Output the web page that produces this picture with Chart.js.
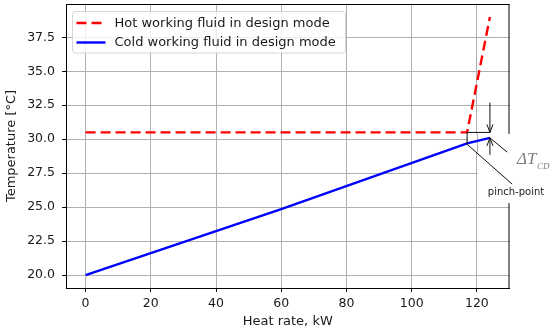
<!DOCTYPE html>
<html><head><meta charset="utf-8">
<script src="https://cdn.jsdelivr.net/npm/chart.js@4/dist/chart.umd.min.js"></script>
<style>html,body{margin:0;padding:0;background:#fff}#wrap{width:550px;height:332px}</style>
</head><body><div id="wrap"><canvas id="c" width="550" height="332"></canvas></div>
<script>
const hotHeat = [0, 117, 124];
const hotTemp = [30.5, 30.5, 39.0];
const coldHeat = [0, 60, 117, 124];
const coldTemp = [20.0, 24.85, 29.7, 30.1];
const xTicks = [0, 20, 40, 60, 80, 100, 120];
const yTicks = [20.0, 22.5, 25.0, 27.5, 30.0, 32.5, 35.0, 37.5];
const seriesNames = ['Hot working fluid in design mode', 'Cold working fluid in design mode'];
const xTitle = 'Heat rate, kW';
const yTitle = 'Temperature [°C]';
const pinchLabel = 'pinch-point';

const FONT = "'DejaVu Sans', sans-serif";
const TXT = '#1a1a1a';

const pts = (xs, ys) => xs.map((x, i) => ({x, y: ys[i]}));

const framePlugin = {
  id: 'frame',
  beforeDatasetsDraw(chart) {
    const {ctx, chartArea: a, scales: {x, y}} = chart;
    ctx.save();
    ctx.strokeStyle = '#000'; ctx.lineWidth = 1;
    ctx.beginPath();
    ctx.moveTo(a.left, a.top + 0.5); ctx.lineTo(a.right, a.top + 0.5);
    ctx.moveTo(a.right - 0.5, a.top); ctx.lineTo(a.right - 0.5, a.bottom);
    ctx.stroke();
    // white patch behind the annotation labels
    const px1 = x.getPixelForValue(hotHeat[1]);
    const g = Math.round(x.getPixelForValue(120)) + 0.5;
    const yh = y.getPixelForValue(hotTemp[1]);
    const ym = y.getPixelForValue(29.0);
    const yb = y.getPixelForValue(25.3);
    ctx.fillStyle = '#fff';
    ctx.fillRect(px1 + 1, yh + 1.5, a.right + 4 - px1, ym - yh - 1.5);
    ctx.fillRect(g + 0.5, ym - 1, a.right + 4 - g, yb - ym + 1);
    ctx.strokeStyle = '#b0b0b0';
    ctx.beginPath(); ctx.moveTo(g, yh + 1.5); ctx.lineTo(g, ym); ctx.stroke();
    ctx.restore();
  },
  afterDatasetsDraw(chart) {
    const {ctx, chartArea: a, scales: {x, y}} = chart;
    const px1 = x.getPixelForValue(hotHeat[1]);
    const px2 = x.getPixelForValue(coldHeat[coldHeat.length - 1]);
    const yh = y.getPixelForValue(hotTemp[1]);
    const yc = y.getPixelForValue(coldTemp[coldTemp.length - 1]);
    const ycp = y.getPixelForValue(coldTemp[2]);
    ctx.save();
    ctx.strokeStyle = '#111'; ctx.lineWidth = 1;
    ctx.beginPath();
    ctx.moveTo(px1, yh); ctx.lineTo(px2, yh);
    ctx.moveTo(px1, yh); ctx.lineTo(px1, ycp + 1);
    ctx.moveTo(px2, y.getPixelForValue(32.7)); ctx.lineTo(px2, yh);
    ctx.moveTo(px2 - 3, yh - 8); ctx.lineTo(px2, yh); ctx.lineTo(px2 + 3, yh - 8);
    ctx.moveTo(px2, y.getPixelForValue(28.85)); ctx.lineTo(px2, yc);
    ctx.moveTo(px2 - 3, yc + 8); ctx.lineTo(px2, yc); ctx.lineTo(px2 + 3, yc + 8);
    ctx.moveTo(px2, yc); ctx.lineTo(x.getPixelForValue(129.3), y.getPixelForValue(29.05));
    ctx.moveTo(px1, ycp + 1); ctx.lineTo(x.getPixelForValue(130.8), y.getPixelForValue(26.7));
    ctx.stroke();
    ctx.fillStyle = '#808080';
    ctx.textBaseline = 'alphabetic'; ctx.textAlign = 'left';
    ctx.font = "italic 17px 'Liberation Serif', serif";
    ctx.fillText('ΔT', 517, 164);
    ctx.font = "italic 9px 'Liberation Serif', serif";
    ctx.fillText('CD', 537, 169);
    ctx.fillStyle = TXT;
    ctx.font = "10px " + FONT;
    ctx.textAlign = 'center';
    ctx.fillText(pinchLabel, 516, 195);
    // legend
    const lx = a.left + 6.5, ly = a.top + 7.5, lw = 273, lh = 41.5;
    ctx.fillStyle = 'rgba(255,255,255,0.8)';
    ctx.strokeStyle = '#d6d6d6';
    ctx.beginPath();
    ctx.roundRect(lx, ly, lw, lh, 3);
    ctx.fill(); ctx.stroke();
    chart.data.datasets.forEach((ds, i) => {
      const yy = ly + 11.5 + i * 19.5;
      ctx.strokeStyle = ds.borderColor; ctx.lineWidth = ds.borderWidth;
      ctx.setLineDash(ds.borderDash || []);
      ctx.beginPath(); ctx.moveTo(lx + 4, yy); ctx.lineTo(lx + 33, yy); ctx.stroke();
      ctx.setLineDash([]);
      ctx.fillStyle = TXT; ctx.font = "13px " + FONT;
      ctx.textAlign = 'left'; ctx.textBaseline = 'middle';
      ctx.fillText(ds.label, lx + 42, yy + 0.5);
    });
    ctx.restore();
  }
};

new Chart(document.getElementById('c'), {
  type: 'line',
  data: {
    datasets: [
      {label: seriesNames[0], data: pts(hotHeat, hotTemp), borderColor: '#ff0000', borderWidth: 2.4, borderDash: [10, 5], pointRadius: 0, fill: false, tension: 0},
      {label: seriesNames[1], data: pts(coldHeat, coldTemp), borderColor: '#0000ff', borderWidth: 2.4, pointRadius: 0, fill: false, tension: 0}
    ]
  },
  options: {
    responsive: false, animation: false, devicePixelRatio: 1,
    layout: {padding: {top: 4, right: 40.5, left: 0, bottom: 0}},
    plugins: {legend: {display: false}, tooltip: {enabled: false}},
    scales: {
      x: {
        type: 'linear', min: -6, max: 130,
        afterFit: s => { s.height = 44; s.paddingLeft = 0; s.paddingRight = 0; },
        afterBuildTicks: s => { s.ticks = xTicks.map(v => ({value: v})); },
        grid: {color: '#b0b0b0', tickColor: '#000', tickLength: 4, lineWidth: 1},
        border: {color: '#000', width: 1},
        ticks: {font: {family: FONT, size: 12.5}, color: TXT, padding: 4, maxRotation: 0, callback: v => String(v)},
        title: {display: true, text: xTitle, font: {family: FONT, size: 13}, color: TXT, padding: {top: 0, bottom: 3}}
      },
      y: {
        type: 'linear', min: 19.05, max: 39.95,
        afterFit: s => { s.width = 66; s.paddingTop = 0; s.paddingBottom = 0; },
        afterBuildTicks: s => { s.ticks = yTicks.map(v => ({value: v})); },
        grid: {color: '#b0b0b0', tickColor: '#000', tickLength: 4, lineWidth: 1},
        border: {color: '#000', width: 1},
        ticks: {font: {family: FONT, size: 12.5}, color: TXT, padding: 7, callback: v => Number(v).toFixed(1)},
        title: {display: true, text: yTitle, font: {family: FONT, size: 13}, color: TXT, padding: {top: 4, bottom: 0}}
      }
    }
  },
  plugins: [framePlugin]
});
</script></body></html>
